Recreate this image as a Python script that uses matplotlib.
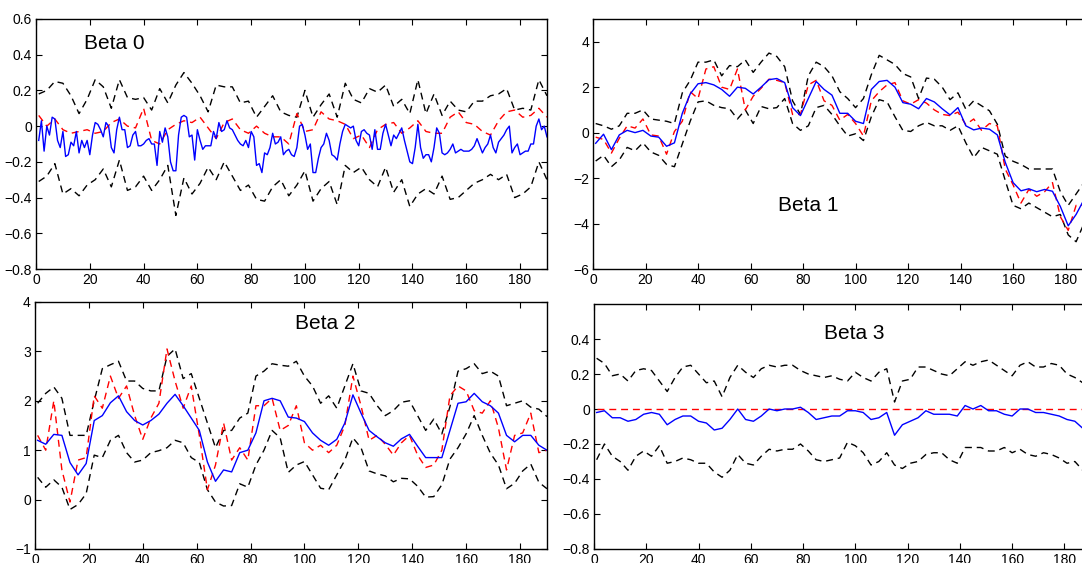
import matplotlib.pyplot as plt
import numpy as np
from matplotlib.ticker import FuncFormatter

plt.rcParams['font.family'] = ['Liberation Sans', 'DejaVu Sans']

# sample index (every 3rd time step, 1..190)
t = np.arange(1, 191, 3)
# every time step, used for the spiky Beta 0 estimate
t_all = np.arange(1, 191)

# Beta 0
b0_est = [-0.08, 0.03, -0.14, 0.00, -0.05, 0.05, 0.04, -0.08, -0.12, -0.03,
          -0.17, -0.16, -0.09, -0.11, -0.03, -0.15, -0.08, -0.12, -0.08, -0.16,
          -0.05, 0.02, 0.01, -0.02, -0.06, 0.02, 0.00, -0.12, -0.15, -0.02,
          0.05, -0.02, -0.02, -0.12, -0.11, -0.05, -0.03, -0.11, -0.11, -0.10,
          -0.08, -0.07, -0.10, -0.10, -0.22, -0.03, -0.09, -0.01, -0.06, -0.20,
          -0.25, -0.25, -0.05, 0.05, 0.06, 0.05, -0.06, -0.05, -0.19, -0.02,
          -0.08, -0.13, -0.11, -0.11, -0.11, -0.03, -0.07, 0.02, -0.03, -0.02,
          0.03, -0.01, -0.02, -0.05, -0.08, -0.10, -0.11, -0.08, -0.12, -0.03,
          -0.06, -0.22, -0.21, -0.26, -0.15, -0.16, -0.12, -0.04, -0.10, -0.09,
          -0.06, -0.16, -0.14, -0.13, -0.16, -0.17, -0.12, 0.00, 0.01, -0.05,
          -0.13, -0.10, -0.26, -0.26, -0.18, -0.12, -0.10, -0.04, -0.08, -0.16,
          -0.17, -0.19, -0.10, -0.03, 0.01, 0.00, -0.01, 0.00, -0.08, -0.11,
          -0.03, -0.02, -0.04, -0.05, -0.13, -0.02, -0.13, -0.13, -0.04, 0.01,
          -0.05, -0.11, -0.05, -0.07, -0.04, -0.01, -0.08, -0.14, -0.20, -0.21,
          -0.12, 0.01, -0.12, -0.18, -0.16, -0.16, -0.20, -0.12, -0.01, -0.04,
          -0.15, -0.16, -0.15, -0.13, -0.10, -0.15, -0.14, -0.13, -0.14, -0.14,
          -0.14, -0.13, -0.11, -0.07, -0.11, -0.15, -0.12, -0.10, -0.05, -0.12,
          -0.15, -0.09, -0.07, -0.05, -0.02, 0.00, -0.15, -0.12, -0.10, -0.16,
          -0.15, -0.14, -0.14, -0.10, -0.10, 0.00, 0.04, -0.02, 0.00, -0.06]
b0_true = [0.06, 0.00, 0.04, -0.02, -0.04, -0.03, -0.02, -0.04,
           -0.03, 0.02, 0.04, 0.00, -0.01, 0.10, -0.08, -0.10,
           -0.02, 0.01, 0.03, 0.02, 0.05, -0.01, -0.07, 0.02,
           0.04, -0.02, -0.04, 0.00, -0.04, -0.06, -0.06, -0.10,
           0.07, -0.03, -0.02, 0.08, 0.04, 0.03, 0.01, -0.07,
           -0.05, -0.12, -0.02, 0.01, 0.02, -0.04, -0.01, 0.03,
           -0.03, -0.04, -0.04, 0.05, 0.08, 0.02, 0.01, -0.03,
           -0.05, 0.03, 0.08, 0.09, 0.05, 0.06, 0.10, 0.05]
b0_up = [0.18, 0.20, 0.25, 0.24, 0.17, 0.07, 0.15, 0.26,
         0.22, 0.10, 0.26, 0.16, 0.15, 0.16, 0.09, 0.21,
         0.13, 0.23, 0.30, 0.24, 0.17, 0.08, 0.23, 0.22,
         0.22, 0.13, 0.14, 0.05, 0.11, 0.17, 0.08, 0.06,
         0.05, 0.20, 0.05, 0.12, 0.18, 0.05, 0.24, 0.15,
         0.13, 0.21, 0.19, 0.23, 0.11, 0.15, 0.07, 0.26,
         0.07, 0.18, 0.06, 0.14, 0.09, 0.08, 0.14, 0.14,
         0.17, 0.18, 0.21, 0.09, 0.10, 0.09, 0.26, 0.17]
b0_lo = [-0.31, -0.28, -0.21, -0.38, -0.35, -0.39, -0.33, -0.30,
         -0.24, -0.34, -0.19, -0.36, -0.34, -0.28, -0.36, -0.30,
         -0.22, -0.50, -0.29, -0.38, -0.32, -0.23, -0.30, -0.20,
         -0.28, -0.36, -0.33, -0.41, -0.42, -0.34, -0.30, -0.39,
         -0.33, -0.25, -0.42, -0.35, -0.31, -0.44, -0.22, -0.26,
         -0.23, -0.30, -0.34, -0.23, -0.37, -0.30, -0.45, -0.38,
         -0.35, -0.38, -0.28, -0.41, -0.40, -0.36, -0.32, -0.30,
         -0.27, -0.30, -0.27, -0.40, -0.38, -0.34, -0.20, -0.30]

# Beta 1
b1_est = [-0.47, -0.07, -0.75, -0.10, 0.10, 0.00, 0.10, -0.15,
          -0.20, -0.60, -0.45, 0.85, 1.70, 2.15, 2.20, 2.10,
          1.90, 1.60, 2.00, 1.95, 1.70, 2.00, 2.33, 2.38,
          2.20, 1.10, 0.75, 1.50, 2.25, 1.90, 1.65, 0.85,
          0.85, 0.50, 0.40, 1.90, 2.25, 2.30, 2.00, 1.32,
          1.25, 1.05, 1.50, 1.35, 1.05, 0.78, 1.10, 0.30,
          0.12, 0.20, 0.15, -0.10, -1.30, -2.20, -2.56, -2.47,
          -2.60, -2.50, -2.58, -3.25, -4.10, -3.60, -2.95, -2.90]
b1_true = [-0.20, -0.30, -0.90, -0.25, 0.30, 0.20, 0.60, -0.10,
           -0.15, -0.95, 0.05, 0.50, 1.80, 1.50, 2.80, 2.90,
           2.00, 1.90, 2.80, 1.00, 1.60, 1.95, 2.35, 2.30,
           2.20, 0.80, 0.80, 2.10, 2.30, 1.40, 1.20, 0.55,
           0.80, 0.40, -0.15, 1.40, 1.80, 2.10, 2.20, 1.40,
           1.25, 1.45, 1.30, 1.00, 0.80, 0.75, 0.90, 0.35,
           0.60, 0.10, 0.40, 0.30, -1.60, -2.30, -3.10, -2.50,
           -2.80, -2.60, -2.20, -3.70, -4.30, -3.20, -3.20, -2.60]
b1_up = [0.40, 0.30, 0.15, 0.30, 0.85, 0.85, 1.00, 0.60,
         0.55, 0.50, 0.40, 1.75, 2.30, 3.10, 3.10, 3.20,
         2.50, 2.95, 2.90, 3.20, 2.65, 3.10, 3.50, 3.35,
         2.90, 1.40, 0.80, 2.50, 3.10, 2.90, 2.50, 1.80,
         1.50, 1.10, 1.50, 2.55, 3.40, 3.20, 3.00, 2.60,
         2.45, 1.50, 2.40, 2.35, 2.00, 1.45, 1.75, 1.03,
         1.40, 1.18, 0.96, 0.37, -1.03, -1.26, -1.40, -1.60,
         -1.60, -1.60, -1.60, -2.60, -3.20, -2.70, -2.20, -2.00]
b1_lo = [-1.25, -1.00, -1.50, -1.20, -0.65, -0.80, -0.45, -0.85,
         -1.00, -1.40, -1.50, -0.50, 0.50, 1.35, 1.40, 1.20,
         1.10, 1.05, 0.60, 1.00, 0.40, 1.15, 1.05, 1.10,
         1.50, 0.40, 0.10, 0.30, 1.10, 1.20, 0.80, 0.30,
         -0.15, -0.05, -0.35, 0.70, 1.45, 1.35, 0.70, 0.10,
         0.05, 0.30, 0.45, 0.30, 0.30, 0.10, 0.30, -0.45,
         -1.10, -0.65, -0.80, -0.95, -2.10, -3.20, -3.35, -3.10,
         -3.30, -3.50, -3.70, -3.60, -4.50, -4.80, -4.00, -3.60]

# Beta 2
b2_est = [1.20, 1.12, 1.32, 1.30, 0.75, 0.50, 0.73, 1.60,
          1.70, 1.96, 2.10, 1.78, 1.60, 1.51, 1.60, 1.73,
          1.95, 2.13, 1.90, 1.65, 1.40, 0.76, 0.37, 0.60,
          0.56, 0.95, 1.00, 1.35, 2.00, 2.05, 2.00, 1.67,
          1.65, 1.58, 1.35, 1.20, 1.10, 1.22, 1.55, 2.12,
          1.75, 1.40, 1.27, 1.15, 1.08, 1.23, 1.32, 1.08,
          0.85, 0.85, 0.85, 1.40, 1.95, 1.98, 2.15, 1.98,
          1.90, 1.75, 1.30, 1.17, 1.30, 1.30, 1.10, 1.00]
b2_true = [1.30, 1.00, 2.00, 0.60, -0.05, 0.80, 0.85, 2.10,
           1.85, 2.50, 2.05, 2.30, 1.70, 1.22, 1.65, 1.95,
           3.05, 2.40, 1.85, 2.30, 1.30, 0.20, 0.70, 1.55,
           0.80, 1.05, 0.80, 1.90, 1.90, 2.05, 1.40, 1.50,
           1.90, 1.15, 1.00, 1.10, 0.95, 1.10, 1.50, 2.50,
           1.90, 1.20, 1.30, 1.12, 0.90, 1.15, 1.30, 0.90,
           0.65, 0.70, 1.00, 2.10, 2.30, 2.20, 1.80, 1.75,
           2.00, 1.45, 0.60, 1.30, 1.35, 1.75, 0.95, 1.00]
b2_up = [1.95, 2.15, 2.28, 2.05, 1.30, 1.30, 1.30, 2.00,
         2.65, 2.73, 2.80, 2.40, 2.40, 2.25, 2.20, 2.20,
         2.90, 3.05, 2.45, 2.55, 2.05, 1.55, 1.05, 1.40,
         1.40, 1.65, 1.75, 2.50, 2.60, 2.75, 2.72, 2.70,
         2.80, 2.50, 2.30, 1.95, 2.10, 1.85, 2.30, 2.75,
         2.20, 2.15, 1.90, 1.70, 1.80, 1.97, 2.00, 1.70,
         1.40, 1.63, 1.33, 1.88, 2.60, 2.65, 2.75, 2.55,
         2.60, 2.50, 1.90, 1.95, 2.00, 1.87, 1.83, 1.68]
b2_lo = [0.45, 0.25, 0.40, 0.25, -0.20, -0.10, 0.12, 0.90,
         0.85, 1.20, 1.30, 0.95, 0.76, 0.80, 0.95, 0.99,
         1.05, 1.20, 1.15, 0.85, 0.75, 0.20, -0.05, -0.13,
         -0.12, 0.32, 0.25, 0.70, 1.00, 1.40, 1.25, 0.55,
         0.70, 0.77, 0.50, 0.23, 0.20, 0.50, 0.80, 1.25,
         1.05, 0.58, 0.52, 0.48, 0.36, 0.43, 0.42, 0.27,
         0.05, 0.06, 0.30, 0.82, 1.05, 1.33, 1.70, 1.30,
         0.94, 0.70, 0.22, 0.33, 0.58, 0.72, 0.35, 0.22]

# Beta 3
b3_est = [-0.02, -0.01, -0.05, -0.05, -0.07, -0.06, -0.03, -0.02,
          -0.03, -0.09, -0.06, -0.04, -0.04, -0.07, -0.08, -0.12,
          -0.11, -0.06, 0.00, -0.06, -0.07, -0.04, 0.00, -0.01,
          0.00, 0.00, 0.01, -0.02, -0.06, -0.05, -0.04, -0.04,
          -0.01, -0.01, -0.02, -0.06, -0.05, -0.02, -0.15, -0.09,
          -0.07, -0.05, -0.01, -0.03, -0.03, -0.03, -0.04, 0.02,
          0.00, 0.02, -0.01, -0.01, -0.03, -0.04, 0.00, 0.00,
          -0.02, -0.02, -0.03, -0.04, -0.06, -0.07, -0.11, -0.12]
b3_up = [0.29, 0.26, 0.19, 0.20, 0.16, 0.22, 0.23, 0.22,
         0.16, 0.10, 0.18, 0.24, 0.25, 0.20, 0.15, 0.16,
         0.07, 0.18, 0.25, 0.21, 0.18, 0.23, 0.25, 0.24,
         0.25, 0.25, 0.22, 0.20, 0.19, 0.18, 0.19, 0.17,
         0.16, 0.21, 0.18, 0.16, 0.21, 0.23, 0.04, 0.16,
         0.17, 0.24, 0.24, 0.22, 0.20, 0.19, 0.23, 0.27,
         0.25, 0.27, 0.28, 0.25, 0.22, 0.19, 0.25, 0.27,
         0.24, 0.24, 0.26, 0.25, 0.20, 0.18, 0.15, 0.14]
b3_lo = [-0.29, -0.20, -0.27, -0.30, -0.35, -0.27, -0.24, -0.27,
         -0.21, -0.31, -0.30, -0.28, -0.29, -0.31, -0.31, -0.36,
         -0.39, -0.35, -0.26, -0.31, -0.32, -0.27, -0.23, -0.24,
         -0.23, -0.23, -0.20, -0.24, -0.29, -0.30, -0.29, -0.28,
         -0.19, -0.21, -0.25, -0.32, -0.30, -0.25, -0.32, -0.34,
         -0.31, -0.30, -0.26, -0.25, -0.25, -0.29, -0.31, -0.22,
         -0.22, -0.22, -0.24, -0.24, -0.22, -0.25, -0.23, -0.26,
         -0.27, -0.25, -0.26, -0.28, -0.31, -0.30, -0.35, -0.35]
b3_true_t = [1, 190]
b3_true = [0.0, 0.0]

fig = plt.figure(figsize=(10.82, 5.63), dpi=100)

# axes boxes in figure fractions (right column runs past the figure edge)
ax0 = fig.add_axes([0.0333, 0.5222, 0.4722, 0.4441])
ax1 = fig.add_axes([0.5481, 0.5222, 0.4610, 0.4441])
ax2 = fig.add_axes([0.0323, 0.0249, 0.4732, 0.4387])
ax3 = fig.add_axes([0.5490, 0.0249, 0.4589, 0.4351])

fmt = FuncFormatter(lambda v, p: f'{v:g}'.replace('-', '\u2212'))
dash = (5, 3.5)


def draw(ax, est, true, up, lo, ylim, yticks, label, lx, ly,
         est_t=t, true_t=t):
    ax.plot(t, up, color='black', lw=1.0, dashes=dash)
    ax.plot(t, lo, color='black', lw=1.0, dashes=dash)
    ax.plot(true_t, true, color='red', lw=1.0, dashes=dash)
    ax.plot(est_t, est, color='blue', lw=1.0)
    ax.set_xlim(0, 190)
    ax.set_ylim(*ylim)
    ax.set_xticks(np.arange(0, 181, 20))
    ax.set_yticks(yticks)
    ax.yaxis.set_major_formatter(fmt)
    ax.tick_params(direction='in', top=True, right=True, length=4,
                   width=0.8, labelsize=10, pad=3)
    for s in ax.spines.values():
        s.set_linewidth(1.0)
    ax.text(lx, ly, label, fontsize=15, va='center', ha='left')


draw(ax0, b0_est, b0_true, b0_up, b0_lo, (-0.8, 0.6),
     [-0.8, -0.6, -0.4, -0.2, 0, 0.2, 0.4, 0.6], 'Beta 0', 18, 0.46,
     est_t=t_all)
draw(ax1, b1_est, b1_true, b1_up, b1_lo, (-6, 5),
     [-6, -4, -2, 0, 2, 4], 'Beta 1', 70.5, -3.2)
draw(ax2, b2_est, b2_true, b2_up, b2_lo, (-1, 4),
     [-1, 0, 1, 2, 3, 4], 'Beta 2', 96.5, 3.57)
draw(ax3, b3_est, b3_true, b3_up, b3_lo, (-0.8, 0.6),
     [-0.8, -0.6, -0.4, -0.2, 0, 0.2, 0.4], 'Beta 3', 88, 0.43,
     true_t=b3_true_t)

fig.savefig('out.png', dpi=100)
